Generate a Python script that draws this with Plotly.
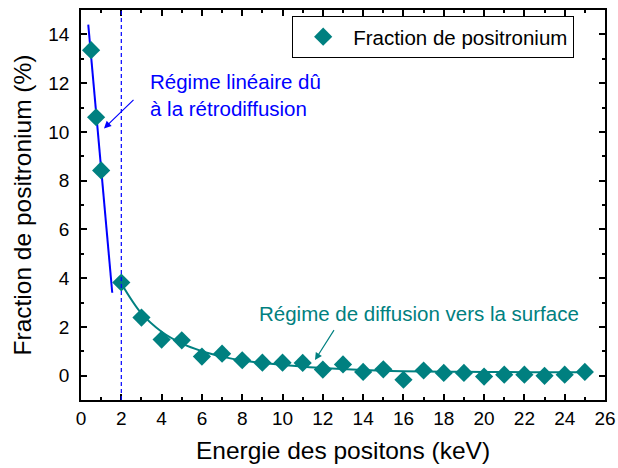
import plotly.graph_objects as go

# Measured data (positron energy in keV, positronium fraction in %)
energy_kev = [0.5, 0.75, 1.0, 2, 3, 4, 5, 6, 7, 8, 9, 10, 11, 12, 13, 14, 15,
              16, 17, 18, 19, 20, 21, 22, 23, 24, 25]
ps_fraction = [13.35, 10.6, 8.42, 3.82, 2.38, 1.48, 1.45, 0.78, 0.90, 0.63,
               0.53, 0.53, 0.52, 0.25, 0.46, 0.15, 0.26, -0.17, 0.21, 0.11,
               0.11, -0.04, 0.04, 0.04, -0.01, 0.04, 0.15]

# Linear backscattering regime (fit line)
lin_x = [0.36, 1.55]
lin_y = [14.4, 3.4]

# Diffusion regime fitted curve
diff_x = [2, 3, 4, 5, 6, 7, 8, 9, 10, 11, 12, 14, 16, 18, 20, 22, 25]
diff_y = [3.78, 2.55, 1.8, 1.32, 1.0, 0.78, 0.62, 0.52, 0.44, 0.37, 0.31,
          0.23, 0.18, 0.16, 0.15, 0.14, 0.14]

separation_kev = 2

x_ticks = list(range(0, 27, 2))
y_ticks = list(range(0, 15, 2))

TEAL = "#008080"
BLUE = "#0000FF"
FONT = "Liberation Sans, Arial, sans-serif"

fig = go.Figure()

fig.add_trace(go.Scatter(x=lin_x, y=lin_y, mode="lines",
                         line=dict(color=BLUE, width=2), showlegend=False,
                         hoverinfo="skip"))
fig.add_trace(go.Scatter(x=diff_x, y=diff_y, mode="lines",
                         line=dict(color=TEAL, width=2, shape="spline", smoothing=1.0),
                         showlegend=False, hoverinfo="skip"))
fig.add_trace(go.Scatter(x=energy_kev, y=ps_fraction, mode="markers",
                         name="Fraction de positronium",
                         marker=dict(symbol="diamond", color=TEAL, size=14,
                                     line=dict(width=0))))

fig.add_shape(type="line", xref="x", yref="paper", x0=separation_kev,
              x1=separation_kev, y0=0, y1=1,
              line=dict(color=BLUE, width=1.2, dash="4px,3px"))

# annotations
fig.add_annotation(x=3.33, y=11.5, xref="x", yref="y", xanchor="left",
                   yanchor="middle", align="left", showarrow=False,
                   text="Régime linéaire dû<br>à la rétrodiffusion",
                   font=dict(color=BLUE, size=20.5, family=FONT))
fig.add_annotation(x=1.14, y=10.14, ax=2.68, ay=11.37, xref="x", yref="y",
                   axref="x", ayref="y", showarrow=True, arrowhead=2,
                   arrowsize=1.2, arrowwidth=1.2, arrowcolor=BLUE, text="")
fig.add_annotation(x=8.73, y=2.55, xref="x", yref="y", xanchor="left",
                   yanchor="middle", showarrow=False,
                   text="Régime de diffusion vers la surface",
                   font=dict(color=TEAL, size=20.5, family=FONT))
fig.add_annotation(x=11.61, y=0.64, ax=12.6, ay=1.93, xref="x", yref="y",
                   axref="x", ayref="y", showarrow=True, arrowhead=2,
                   arrowsize=1.2, arrowwidth=1.2, arrowcolor=TEAL, text="")

axis_common = dict(showline=True, linecolor="black", linewidth=1.5,
                   mirror="allticks", ticks="inside", ticklen=6,
                   tickwidth=1.5, tickcolor="black", showgrid=False,
                   zeroline=False, automargin=False,
                   tickfont=dict(size=19, color="black", family=FONT),
                   minor=dict(ticks="inside", ticklen=3, tickwidth=1.5,
                              tickcolor="black", dtick=1, showgrid=False))

fig.update_xaxes(range=[0, 26], tickvals=x_ticks, ticklabelstandoff=0,
                 title=dict(text="Energie des positons (keV)",
                            font=dict(size=24.5, family=FONT, color="black"),
                            standoff=14),
                 **axis_common)
fig.update_yaxes(range=[-1, 15], tickvals=y_ticks, ticklabelstandoff=6,
                 title=dict(text="Fraction de positronium (%)",
                            font=dict(size=24.5, family=FONT, color="black"),
                            standoff=10),
                 **axis_common)

fig.update_layout(
    width=618, height=468,
    margin=dict(l=81, r=13, t=10, b=68, autoexpand=False),
    paper_bgcolor="white", plot_bgcolor="white",
    font=dict(family=FONT, color="black"),
    legend=dict(x=0.403, y=0.985, xanchor="left", yanchor="top",
                bordercolor="black", borderwidth=1, bgcolor="white",
                itemwidth=50, entrywidth=283,
                font=dict(size=20.5, family=FONT, color="black")),
)

fig.write_html("out.html", config={"displayModeBar": False},
               post_script="document.body.style.margin='0';"
                           "document.body.style.overflow='hidden';")
